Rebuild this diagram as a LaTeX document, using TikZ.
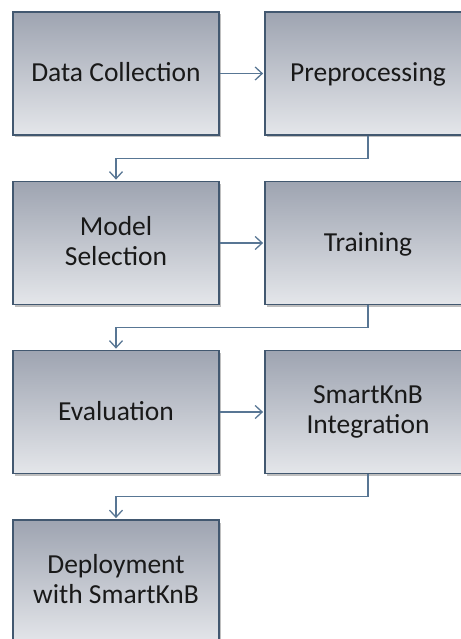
\documentclass[tikz,border=0pt]{standalone}
\usepackage{fontspec}
\setmainfont{Carlito}
\usetikzlibrary{arrows.meta,shadows,calc}
\definecolor{boxtop}{RGB}{158,164,177}
\definecolor{boxbot}{RGB}{228,230,234}
\definecolor{boxline}{RGB}{66,88,112}
\definecolor{connline}{RGB}{88,118,148}
\definecolor{txt}{RGB}{25,25,25}
\newcommand{\boxstrut}{\rule[-5pt]{0pt}{27pt}}
\tikzset{
  stepbox/.style={rectangle, draw=boxline, line width=1.8pt, top color=boxtop, bottom color=boxbot,
    minimum width=206pt, minimum height=123pt, inner sep=0pt, align=center,
    font=\fontsize{27.5}{30}\selectfont, text=txt,
    execute at begin node=\boxstrut, execute at end node=\boxstrut,
    drop shadow={shadow xshift=1.5pt, shadow yshift=-2.5pt, opacity=0.25, fill=black}},
  conn/.style={draw=connline, line width=1.3pt, -{Straight Barb[length=7pt,width=13pt,line width=1.3pt]}, shorten >=1pt}
}
\begin{document}
\begin{tikzpicture}[x=1pt,y=-1pt]
\useasboundingbox (0,0) rectangle (460,639);
\node[stepbox] (a) at (116,73.5) {Data Collection};
\node[stepbox] (b) at (368,73.5) {Preprocessing};
\node[stepbox] (c) at (116,243) {Model\\Selection};
\node[stepbox] (d) at (368,243) {Training};
\node[stepbox] (e) at (116,412) {Evaluation};
\node[stepbox] (f) at (368,412) {SmartKnB\\Integration};
\node[stepbox] (g) at (116,581.5) {Deployment\\with SmartKnB};
\draw[conn] (a) -- (b);
\draw[conn] (c) -- (d);
\draw[conn] (e) -- (f);
\path (b.south) -- (c.north) coordinate[midway] (m1);
\path (d.south) -- (e.north) coordinate[midway] (m2);
\path (f.south) -- (g.north) coordinate[midway] (m3);
\draw[conn] (b.south) |- (m1) -| (c.north);
\draw[conn] (d.south) |- (m2) -| (e.north);
\draw[conn] (f.south) |- (m3) -| (g.north);
\end{tikzpicture}
\end{document}
